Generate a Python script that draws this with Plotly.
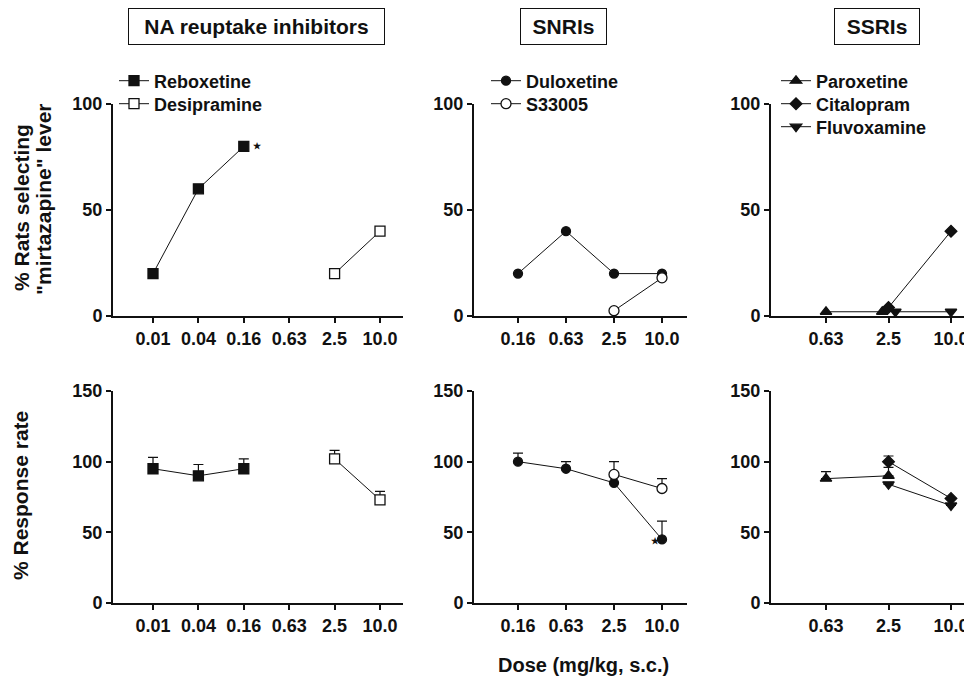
import plotly.graph_objects as go

# ---------------- data ----------------
na_doses = ["0.01", "0.04", "0.16", "0.63", "2.5", "10.0"]
snri_doses = ["0.16", "0.63", "2.5", "10.0"]
ssri_doses = ["0.63", "2.5", "10.0"]

reboxetine_doses = ["0.01", "0.04", "0.16"]
reboxetine_pct = [20, 60, 80]
reboxetine_rate = [95, 90, 95]
reboxetine_err = [8, 8, 7]

desipramine_doses = ["2.5", "10.0"]
desipramine_pct = [20, 40]
desipramine_rate = [102, 73]
desipramine_err = [6, 6]

duloxetine_doses = ["0.16", "0.63", "2.5", "10.0"]
duloxetine_pct = [20, 40, 20, 20]
duloxetine_rate = [100, 95, 85, 45]
duloxetine_err = [6, 5, 5, 13]

s33005_doses = ["2.5", "10.0"]
s33005_pct = [2.5, 18]
s33005_rate = [91, 81]
s33005_err = [9, 7]

paroxetine_doses = ["0.63", "2.5"]
paroxetine_pct = [2, 2]
paroxetine_rate = [88, 90]
paroxetine_err = [5, 6]

citalopram_doses = ["2.5", "10.0"]
citalopram_pct = [4, 40]
citalopram_rate = [100, 74]
citalopram_err = [4, 0]

fluvoxamine_doses = ["2.5", "10.0"]
fluvoxamine_pct = [2, 2]
fluvoxamine_rate = [84, 69]
fluvoxamine_err = [0, 0]

panel_titles = ["NA reuptake inhibitors", "SNRIs", "SSRIs"]
top_yticks = [0, 50, 100]
bottom_yticks = [0, 50, 100, 150]

# ---------------- style ----------------
W, H = 972, 676
OFF = 8  # page body margin of the html page
FONT = "Liberation Sans, Arial, Helvetica, sans-serif"
BLACK = "#111111"


def px(x):
    return (x - OFF) / W


def py(y):
    return 1 - (y - OFF) / H


fig = go.Figure()

# panel geometry (screen pixels)
panels = [
    dict(doses=na_doses, x0=113, x1=403, t0=153, t1=380),
    dict(doses=snri_doses, x0=474, x1=687, t0=518, t1=662),
    dict(doses=ssri_doses, x0=771, x1=972, t0=826, t1=951),
]
rows = [dict(y0=104, y1=316, top=100, ticks=top_yticks),
        dict(y0=391, y1=603, top=150, ticks=bottom_yticks)]

tickfont = dict(family=FONT, size=18, color=BLACK, weight="bold")
ax_n = 0
axis_ids = {}
for r, row in enumerate(rows):
    for c, p in enumerate(panels):
        ax_n += 1
        sfx = "" if ax_n == 1 else str(ax_n)
        axis_ids[(r, c)] = ("x" + sfx, "y" + sfx)
        n = len(p["doses"])
        step = (p["t1"] - p["t0"]) / (n - 1)
        rng = [(p["x0"] - p["t0"]) / step, (p["x1"] - p["t0"]) / step]
        fig.layout["xaxis" + sfx] = dict(
            domain=[px(p["x0"]), min(px(p["x1"]), 1.0)], range=rng,
            anchor="y" + sfx, tickvals=list(range(n)), ticktext=p["doses"],
            showline=True, linecolor=BLACK, linewidth=2, ticks="outside",
            ticklen=5, tickwidth=1.5, tickcolor=BLACK, showgrid=False,
            zeroline=False, tickfont=tickfont, fixedrange=True,
            automargin=False)
        fig.layout["yaxis" + sfx] = dict(
            domain=[py(row["y1"]), py(row["y0"])], range=[0, row["top"]],
            anchor="x" + sfx, tickvals=row["ticks"],
            showline=True, linecolor=BLACK, linewidth=2, ticks="outside",
            ticklen=5, tickwidth=1.5, tickcolor=BLACK, showgrid=False,
            zeroline=False, tickfont=tickfont, fixedrange=True,
            automargin=False)

legfont = dict(family=FONT, size=18, color=BLACK, weight="bold")
leg_count = [0]
# legend key anchor per panel (screen pixels): left x, first-row centre y, step
legend_pos = {0: (114, 81, 23), 1: (486, 81, 23), 2: (776, 81, 23)}
panel_rows = {0: 0, 1: 0, 2: 0}


def new_legend(col):
    leg_count[0] += 1
    key = "legend" if leg_count[0] == 1 else "legend%d" % leg_count[0]
    lx, ly, step = legend_pos[col]
    yc = ly + step * panel_rows[col]
    panel_rows[col] += 1
    fig.layout[key] = dict(x=px(lx), y=py(yc), xanchor="left",
                           yanchor="middle", bgcolor="rgba(0,0,0,0)",
                           borderwidth=0, font=legfont, itemwidth=30)
    return key


def add_series(name, doses, pct, rate, err, col, symbol, fill,
               size=10, dodge=0.0, dodge_dose=None):
    idx = [panels[col]["doses"].index(d) for d in doses]
    xs_top = [i + (dodge if d == dodge_dose else 0) for i, d in zip(idx, doses)]
    marker = dict(symbol=symbol, size=size, color=fill,
                  line=dict(color=BLACK, width=1.3))
    legend = new_legend(col)
    xa, ya = axis_ids[(0, col)]
    fig.add_trace(go.Scatter(
        x=xs_top, y=pct, mode="lines+markers", name=name, xaxis=xa, yaxis=ya,
        line=dict(color=BLACK, width=1), marker=marker, cliponaxis=False,
        legend=legend, showlegend=True))
    xa, ya = axis_ids[(1, col)]
    fig.add_trace(go.Scatter(
        x=idx, y=rate, mode="lines+markers", name=name, xaxis=xa, yaxis=ya,
        line=dict(color=BLACK, width=1), marker=marker, cliponaxis=False,
        error_y=dict(type="data", symmetric=False, array=err,
                     arrayminus=[0] * len(err), color=BLACK, thickness=1.2,
                     width=5),
        showlegend=False))


add_series("Reboxetine", reboxetine_doses, reboxetine_pct, reboxetine_rate,
           reboxetine_err, 0, "square", BLACK)
add_series("Desipramine", desipramine_doses, desipramine_pct, desipramine_rate,
           desipramine_err, 0, "square", "white")
add_series("Duloxetine", duloxetine_doses, duloxetine_pct, duloxetine_rate,
           duloxetine_err, 1, "circle", BLACK, size=9)
add_series("S33005", s33005_doses, s33005_pct, s33005_rate,
           s33005_err, 1, "circle", "white", size=10)
add_series("Paroxetine", paroxetine_doses, paroxetine_pct, paroxetine_rate,
           paroxetine_err, 2, "triangle-up", BLACK,
           dodge=-0.1, dodge_dose="2.5")
add_series("Citalopram", citalopram_doses, citalopram_pct, citalopram_rate,
           citalopram_err, 2, "diamond", BLACK, size=9)
add_series("Fluvoxamine", fluvoxamine_doses, fluvoxamine_pct, fluvoxamine_rate,
           fluvoxamine_err, 2, "triangle-down", BLACK,
           dodge=0.11, dodge_dose="2.5")

annotations = []
# significance stars
xa, ya = axis_ids[(0, 0)]
annotations.append(dict(x=na_doses.index(reboxetine_doses[2]),
                        y=reboxetine_pct[2], xref=xa, yref=ya, text="★",
                        showarrow=False, xshift=14, font=dict(size=9, color=BLACK)))
xa, ya = axis_ids[(1, 1)]
annotations.append(dict(x=snri_doses.index(duloxetine_doses[3]),
                        y=duloxetine_rate[3], xref=xa, yref=ya, text="★",
                        showarrow=False, xshift=-7, yshift=-2,
                        font=dict(size=9, color=BLACK)))

# panel titles in boxes
for title, cx, w in zip(panel_titles, [256, 563, 877], [243, 73, 72]):
    annotations.append(dict(x=px(cx), y=py(27), xref="paper", yref="paper",
                            text=title, showarrow=False, xanchor="center",
                            yanchor="middle", width=w, bordercolor=BLACK,
                            borderwidth=1, borderpad=6,
                            font=dict(family=FONT, size=21, color=BLACK,
                                      weight="bold")))

# axis titles
title_font = dict(family=FONT, size=21, color=BLACK, weight="bold")
for text, xc, yc in [("% Rats selecting", 22, 208),
                     ("\"mirtazapine\" lever", 43, 199),
                     ("% Response rate", 20, 496)]:
    annotations.append(dict(x=px(xc), y=py(yc), xref="paper", yref="paper",
                            text=text, textangle=-90, showarrow=False,
                            xanchor="center", yanchor="middle",
                            font=title_font))
annotations.append(dict(x=px(583), y=py(665), xref="paper", yref="paper",
                        text="Dose (mg/kg, s.c.)", showarrow=False,
                        xanchor="center", yanchor="middle",
                        font=dict(family=FONT, size=20, color=BLACK,
                                  weight="bold")))

fig.update_layout(width=W, height=H,
                  margin=dict(l=0, r=0, t=0, b=0, autoexpand=False),
                  paper_bgcolor="white", plot_bgcolor="white",
                  font=dict(family=FONT, color=BLACK, weight="bold"),
                  annotations=annotations)

fig.write_html("out.html")
